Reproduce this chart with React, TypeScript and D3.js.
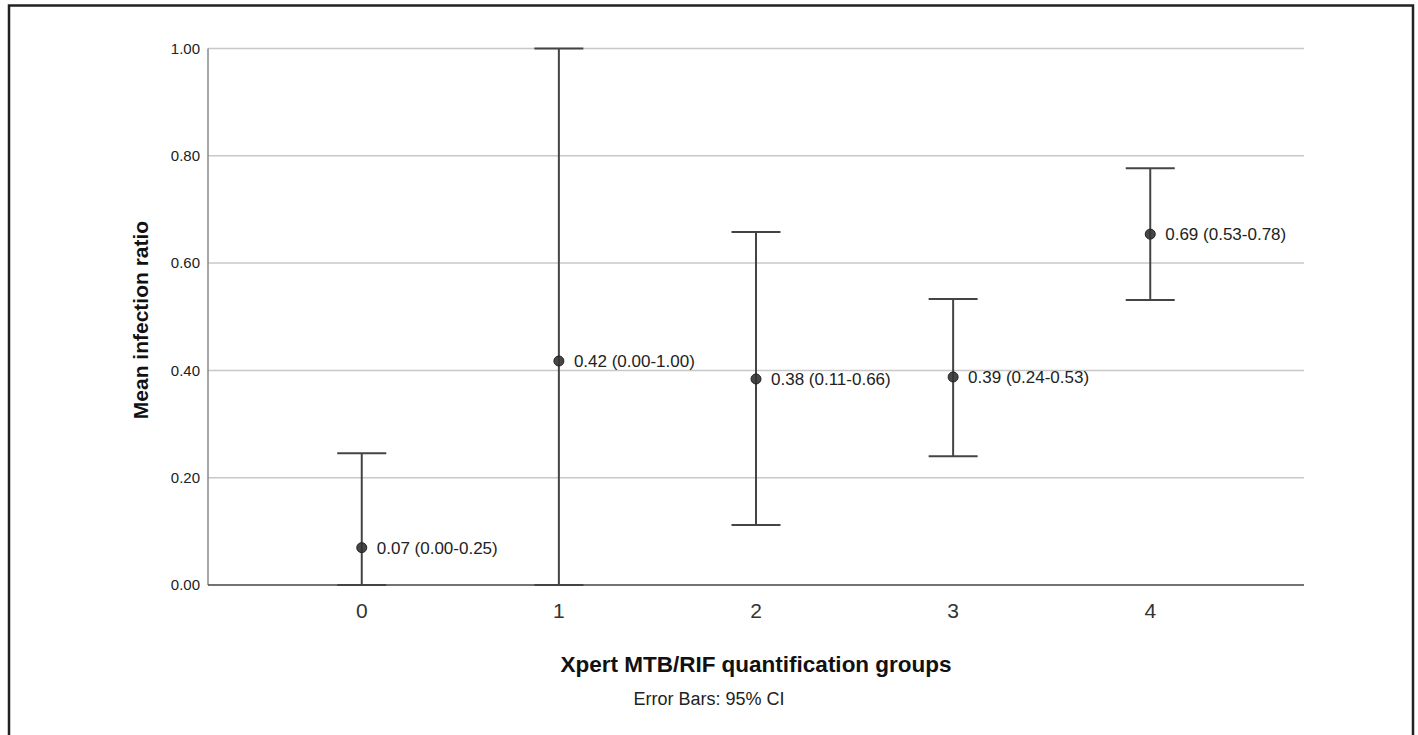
import React from "react";
import * as d3 from "d3";

const categories = ["0", "1", "2", "3", "4"];
const means = [0.0696, 0.4175, 0.384, 0.3877, 0.654];
const lowers = [0.0, 0.0, 0.1118, 0.24, 0.531];
const uppers = [0.2455, 1.0, 0.658, 0.533, 0.777];
const labels = [
  "0.07 (0.00-0.25)",
  "0.42 (0.00-1.00)",
  "0.38 (0.11-0.66)",
  "0.39 (0.24-0.53)",
  "0.69 (0.53-0.78)",
];
const yTicks = [0, 0.2, 0.4, 0.6, 0.8, 1.0];

export default function App() {
  const W = 1418, H = 735;
  const left = 208, right = 1304, top = 48.5, bottom = 585;
  const x = d3.scalePoint<string>().domain(categories).range([left, right]).padding(0.78);
  const y = d3.scaleLinear().domain([0, 1]).range([bottom, top]);
  const font = "Liberation Sans, Arial, sans-serif";
  const cap = 24.5;
  return (
    <svg width={W} height={H} style={{ position: "absolute", left: 0, top: 0 }} fontFamily={font}>
      <rect x={0} y={0} width={W} height={H} fill="#fff" />
      {/* frame */}
      <path d={`M9,${H + 5} V5.5 H1413 V${H + 5}`} fill="none" stroke="#222" strokeWidth={2.5} />
      {/* gridlines */}
      {yTicks.filter((t) => t > 0).map((t) => (
        <line key={t} x1={left} x2={right} y1={y(t)} y2={y(t)} stroke="#c8c8c8" strokeWidth={1.5} />
      ))}
      {/* axes */}
      <line x1={left} x2={left} y1={top} y2={bottom} stroke="#888" strokeWidth={1.5} />
      <line x1={left} x2={right} y1={bottom} y2={bottom} stroke="#444" strokeWidth={1.5} />
      {/* y tick labels */}
      {yTicks.map((t) => (
        <text key={t} x={200} y={y(t)} dy="0.35em" textAnchor="end" fontSize={15} fill="#222">
          {d3.format(".2f")(t)}
        </text>
      ))}
      {/* x tick labels */}
      {categories.map((c) => (
        <text key={c} x={x(c)} y={611} dy="0.35em" textAnchor="middle" fontSize={21} fill="#333">
          {c}
        </text>
      ))}
      {/* error bars */}
      {categories.map((c, i) => {
        const cx = x(c)!;
        return (
          <g key={c} stroke="#444" strokeWidth={2}>
            <line x1={cx} x2={cx} y1={y(lowers[i])} y2={y(uppers[i])} />
            <line x1={cx - cap} x2={cx + cap} y1={y(uppers[i])} y2={y(uppers[i])} />
            <line x1={cx - cap} x2={cx + cap} y1={y(lowers[i])} y2={y(lowers[i])} />
          </g>
        );
      })}
      {/* points and labels */}
      {categories.map((c, i) => {
        const cx = x(c)!;
        return (
          <g key={c}>
            <circle cx={cx} cy={y(means[i])} r={5} fill="#333" fillOpacity={0.9} stroke="#222" strokeWidth={1} />
            <text x={cx + 15} y={y(means[i])} dy="0.35em" fontSize={17} fill="#222">
              {labels[i]}
            </text>
          </g>
        );
      })}
      {/* axis titles */}
      <text
        transform={`translate(141,${320}) rotate(-90)`}
        textAnchor="middle"
        dy="0.35em"
        fontSize={21}
        fontWeight="bold"
        fill="#111"
      >
        Mean infection ratio
      </text>
      <text x={756} y={664} dy="0.35em" textAnchor="middle" fontSize={22.5} fontWeight="bold" fill="#111">
        Xpert MTB/RIF quantification groups
      </text>
      <text x={709} y={699} dy="0.35em" textAnchor="middle" fontSize={18} fill="#222">
        Error Bars: 95% CI
      </text>
    </svg>
  );
}
